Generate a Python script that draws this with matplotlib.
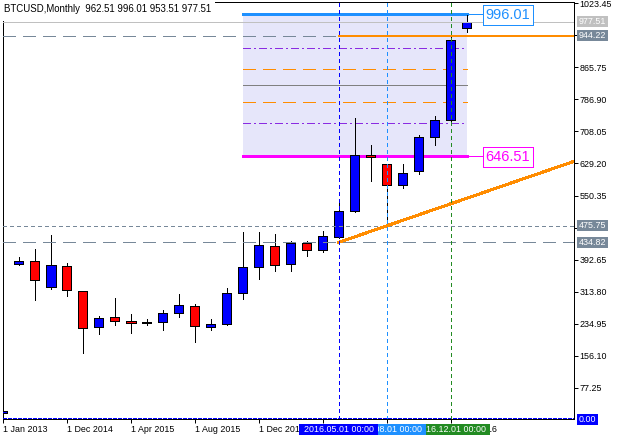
import matplotlib
matplotlib.use("Agg")
import matplotlib.pyplot as plt
import matplotlib.transforms as mtrans
from matplotlib.patches import Rectangle

plt.rcParams['font.family'] = ['Liberation Sans', 'DejaVu Sans']
plt.rcParams['lines.scale_dashes'] = False
plt.rcParams['lines.antialiased'] = False
plt.rcParams['patch.antialiased'] = False

# ---------------- data ----------------
bar_dates = ["2013.01", "2014.09", "2014.10", "2014.11", "2014.12",
             "2015.01", "2015.02", "2015.03", "2015.04", "2015.05", "2015.06",
             "2015.07", "2015.08", "2015.09", "2015.10", "2015.11", "2015.12",
             "2016.01", "2016.02", "2016.03", "2016.04", "2016.05", "2016.06",
             "2016.07", "2016.08", "2016.09", "2016.10", "2016.11", "2016.12",
             "2017.01"]
opens  = [14.0, 381.0, 388.4, 324.4, 376.1, 315.3, 226.0, 250.6, 242.2, 237.3,
          238.3, 260.4, 277.7, 226.0, 233.4, 309.7, 373.7, 425.4, 381.0, 432.7,
          415.5, 447.5, 511.5, 650.0, 627.2, 575.5, 610.0, 693.6, 735.5, 962.51]
highs  = [21.0, 399.0, 418.7, 453.2, 384.2, 316.0, 253.0, 298.1, 258.0, 246.4,
          268.6, 307.9, 283.3, 246.4, 322.7, 460.5, 460.5, 455.6, 437.7, 437.7,
          462.3, 539.3, 741.2, 674.7, 628.0, 627.2, 699.3, 746.1, 944.0, 996.01]
lows   = [13.0, 380.0, 293.9, 321.0, 303.8, 162.0, 210.2, 232.4, 212.7, 230.9,
          220.0, 252.0, 191.0, 220.0, 232.0, 296.4, 344.1, 365.3, 365.3, 402.2,
          410.6, 445.0, 510.0, 586.8, 477.8, 569.6, 604.0, 674.0, 732.0, 953.51]
closes = [20.0, 389.2, 341.7, 379.3, 317.0, 223.5, 248.1, 240.7, 237.3, 238.3,
          260.4, 280.1, 228.4, 233.4, 309.7, 373.7, 427.8, 378.6, 432.7, 415.5,
          450.0, 511.5, 649.3, 645.0, 575.5, 605.0, 693.6, 735.5, 932.4, 977.51]

tick_positions = [0, 4, 8, 12, 16, 20, 24, 28]
tick_labels = ["1 Jan 2013", "1 Dec 2014", "1 Apr 2015", "1 Aug 2015",
               "1 Dec 2015", "1 Apr 2016", "1 Aug 2016", "1 Dec 2016"]
price_ticks = [1023.45, 944.60, 865.75, 786.90, 708.05, 629.20, 550.35,
               471.50, 392.65, 313.80, 234.95, 156.10, 77.25]

title = "BTCUSD,Monthly  962.51 996.01 953.51 977.51"

fib_start, fib_end = 15, 29
fib_high, fib_low = 996.01, 646.51
fib_levels = [0.0, 0.236, 0.382, 0.5, 0.618, 0.764, 1.0]

vline_bars = [28, 24, 21]
vline_texts = ["2016.12.01 00:00", "2016.08.01 00:00", "2016.05.01 00:00"]
vline_colors = ["#228B22", "#1E90FF", "#0000FF"]

bid_price = 977.51
hline_ray_value = 944.22
hline_ray_start = 21
dotted_level = 475.75
dashed_level = 434.82
zero_level = 0.0

trend_x = [21, 29]
trend_y = [435.0, 543.5]

# ---------------- layout ----------------
W, H, DPI = 622, 440, 100
PX = 72.0 / DPI
X0, X1, Y0, Y1 = 2.7, 574.0, 2.0, 419.3
BAR_PX = 16.0

fig = plt.figure(figsize=(W / DPI, H / DPI), dpi=DPI, facecolor="white")
ax = fig.add_axes([X0 / W, 1 - Y1 / H, (X1 - X0) / W, (Y1 - Y0) / H])
ax.set_facecolor("white")
xmax = (X1 - X0) / BAR_PX
ax.set_xlim(0, xmax)
ax.set_ylim(-0.5, 1026.7)
for s in ax.spines.values():
    s.set_linewidth(PX)
    s.set_color("black")

FS = 6.4
ax.yaxis.tick_right()
ax.set_yticks(price_ticks)
ax.set_yticklabels([f"{v:.2f}" for v in price_ticks], fontsize=FS)
ax.tick_params(axis="y", direction="out", length=4 * PX, width=PX, pad=1.0)
ax.set_xticks(tick_positions)
ax.set_xticklabels(tick_labels, fontsize=FS, ha="left")
ax.tick_params(axis="x", direction="out", length=4 * PX, width=PX, pad=1.0)

idx = list(range(len(bar_dates)))

# fibonacci box (background)
ax.add_patch(Rectangle((fib_start, fib_low), fib_end - fib_start, fib_high - fib_low,
                       facecolor="#E6E6FA", edgecolor="none", zorder=1))
fib_styles = {
    0.0: dict(color="#1E90FF", lw=3 * PX, ls="-"),
    0.236: dict(color="#8A2BE2", lw=PX, dashes=(8 * PX, 3 * PX, 2 * PX, 3 * PX)),
    0.382: dict(color="#FF8C00", lw=PX, dashes=(12 * PX, 7 * PX)),
    0.5: dict(color="#808080", lw=PX, ls="-"),
    0.618: dict(color="#FF8C00", lw=PX, dashes=(12 * PX, 7 * PX)),
    0.764: dict(color="#8A2BE2", lw=PX, dashes=(8 * PX, 3 * PX, 2 * PX, 3 * PX)),
    1.0: dict(color="#FF00FF", lw=3 * PX, ls="-"),
}
for r in fib_levels:
    v = fib_high - r * (fib_high - fib_low)
    st = fib_styles[r]
    kw = dict(color=st["color"], lw=st["lw"], zorder=1.5)
    line = ax.plot([fib_start, fib_end], [v, v], **kw)[0]
    if "dashes" in st:
        line.set_dashes(st["dashes"])

# candles
for i in idx:
    o, h, l, c = opens[i], highs[i], lows[i], closes[i]
    ax.plot([i, i], [l, h], color="black", lw=PX, zorder=2.9, solid_capstyle="butt")
col = ["#0000FF" if c >= o else "#FF0000" for o, c in zip(opens, closes)]
bottoms = [min(o, c) for o, c in zip(opens, closes)]
heights = [max(abs(c - o), 0.5) for o, c in zip(opens, closes)]
ax.bar(idx, heights, bottom=bottoms, width=0.6, color=col, edgecolor="black",
       linewidth=PX, zorder=3)

# horizontal lines
ax.axhline(bid_price, color="#C0C0C0", lw=PX, zorder=4)
l1 = ax.axhline(hline_ray_value, color="#778899", lw=PX, zorder=4)
l1.set_dashes((12 * PX, 7 * PX))
ax.plot([hline_ray_start, xmax], [hline_ray_value, hline_ray_value],
        color="#FF8C00", lw=2 * PX, zorder=4.5)
l2 = ax.axhline(dotted_level, color="#778899", lw=PX, zorder=4)
l2.set_dashes((3 * PX, 3 * PX))
l3 = ax.axhline(dashed_level, color="#778899", lw=PX, zorder=4)
l3.set_dashes((12 * PX, 7 * PX))
l4 = ax.axhline(zero_level + 1.0, color="#0000FF", lw=1.5 * PX, zorder=4)
l4.set_dashes((4 * PX, 2 * PX))

# trend ray
slope = (trend_y[1] - trend_y[0]) / (trend_x[1] - trend_x[0])
ax.plot([trend_x[0], xmax], [trend_y[0], trend_y[0] + slope * (xmax - trend_x[0])],
        color="#FF8C00", lw=2 * PX, zorder=4.5, clip_on=True)

# vertical lines
for b, c in zip(vline_bars, vline_colors):
    vl = ax.axvline(b, color=c, lw=PX, zorder=5)
    vl.set_dashes((3 * PX, 3 * PX))

# ---------------- labels in display coords ----------------
IDT = mtrans.IdentityTransform()
renderer = fig.canvas.get_renderer()


def dpt(x, y):
    return ax.transData.transform((x, y))


def boxed_text(xl, yc, s, fc, tc, fs, ec="none", padx=2.0, h=11.0, center=False,
               width=None, z=10):
    t = fig.text(xl, yc, s, transform=IDT, fontsize=fs, color=tc,
                 ha="center" if center else "left", va="center", zorder=z + 0.5)
    bb = t.get_window_extent(renderer)
    w = width if width is not None else (bb.width + 2 * padx)
    x0 = (xl - w / 2) if center else (xl - padx)
    rect = Rectangle((x0, yc - h / 2), w, h, transform=IDT, facecolor=fc,
                     edgecolor=ec, lw=PX, zorder=z)
    fig.add_artist(rect)
    return t


axis_right_disp = ax.transAxes.transform((1, 0))[0]
axis_bottom_disp = ax.transAxes.transform((0, 0))[1]

# right price-axis boxes
right_boxes = [(bid_price, "#C0C0C0"), (hline_ray_value, "#778899"),
               (dotted_level, "#778899"), (dashed_level, "#778899"),
               (zero_level, "#0000FF")]
for v, c in right_boxes:
    yd = dpt(0, v)[1]
    boxed_text(axis_right_disp + 5.0, yd, f"{v:.2f}", c, "white", FS, padx=2.0, h=11.0)

# date boxes under x axis (green lowest, blue top)
for k, (b, s, c) in enumerate(zip(vline_bars, vline_texts, vline_colors)):
    xd = dpt(b, 0)[0]
    boxed_text(xd, axis_bottom_disp - 9.7, s, c, "white", FS, center=True,
               width=79.0, h=11.0, z=10 + k)

# fib price labels
for v, c in [(fib_high, "#1E90FF"), (fib_low, "#FF00FF")]:
    xs = dpt(fib_end, v)
    xl = xs[0] + 16.0
    ax.plot([fib_end, fib_end + 1.0], [v, v], color=c, lw=PX, zorder=6, clip_on=False)
    boxed_text(xl + 25.0, xs[1] - 0.5, f"{v:.2f}", "white", c, 10.5, ec=c,
               center=True, width=50.0, h=20.0, z=12)

# title with white background
fig.add_artist(Rectangle((0, H - 21), 215, 21, transform=IDT, facecolor="white",
                         edgecolor="none", zorder=8))
fig.text(3.5, H - 8.5, title, transform=IDT, fontsize=6.9, color="black",
         ha="left", va="center", zorder=9)

fig.savefig("out.png", dpi=DPI, facecolor="white")
